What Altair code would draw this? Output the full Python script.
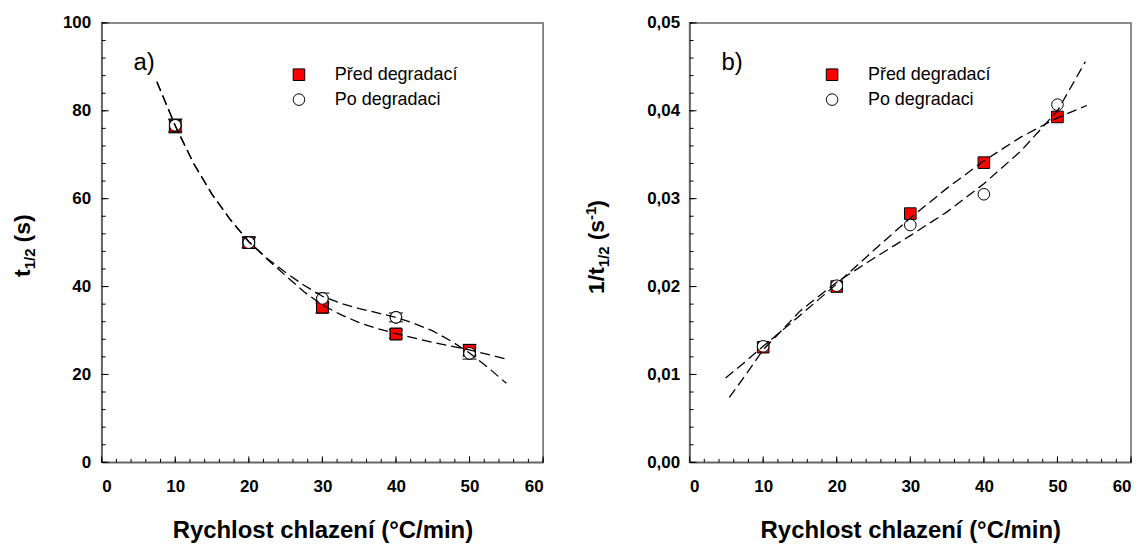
import altair as alt
import pandas as pd

FONT = "Liberation Sans"

# ---------------- data ----------------
rates = [10, 20, 30, 40, 50]
series_names = ["Před degradací", "Po degradaci"]

t_pred = [76.5, 50.0, 35.3, 29.2, 25.5]
t_pred_err = [1.5, 1.2, 1.3, 1.0, 1.3]
t_po = [76.7, 50.0, 37.3, 33.0, 24.8]
t_po_err = [1.4, 1.2, 1.2, 1.0, 1.3]

inv_pred = [0.0131, 0.0200, 0.0283, 0.0341, 0.0393]
inv_po = [0.0132, 0.0201, 0.0270, 0.0305, 0.0407]

fit_a_pred_x = [7.5, 10, 12.5, 15, 17.5, 20, 22.5, 25, 27.5, 30, 32.5, 35, 37.5, 40, 45, 50, 55]
fit_a_pred_y = [86.6, 76.6, 68.0, 61.0, 55.2, 50.2, 46.2, 42.5, 38.8, 35.8, 33.6, 31.8, 30.4, 29.3, 27.3, 25.6, 23.5]
fit_a_po_x = [7.5, 10, 12.5, 15, 17.5, 20, 22.5, 25, 27.5, 30, 32.5, 35, 37.5, 40, 42.5, 45, 47.5, 50, 52.5, 55]
fit_a_po_y = [86.6, 76.6, 68.0, 61.0, 55.2, 50.2, 46.4, 43.2, 40.3, 37.8, 36.2, 35.0, 34.0, 33.0, 31.6, 29.9, 27.6, 24.9, 21.6, 18.0]

fit_b_pred_x = [4.9, 7.5, 10, 15, 20, 25, 30, 35, 40, 45, 50, 54]
fit_b_pred_y = [0.0096, 0.0114, 0.0132, 0.0167, 0.0203, 0.0241, 0.0278, 0.0312, 0.0343, 0.0370, 0.0392, 0.0406]
fit_b_po_x = [5.4, 7.5, 10, 15, 20, 25, 30, 35, 40, 45, 50, 53.8]
fit_b_po_y = [0.0074, 0.0098, 0.0128, 0.0172, 0.0205, 0.0232, 0.0258, 0.0285, 0.0317, 0.0354, 0.0400, 0.0456]

x_major = [0, 10, 20, 30, 40, 50, 60]
x_minor = list(range(0, 61, 2))
ya_major = [0, 20, 40, 60, 80, 100]
ya_minor = list(range(0, 101, 4))
yb_major = [0.0, 0.01, 0.02, 0.03, 0.04, 0.05]
yb_minor = [i / 500 for i in range(0, 26)]

x_title = "Rychlost chlazení (°C/min)"
ya_title_parts = ["t", "1/2", "(s)"]
yb_title_parts = ["1/t", "1/2", "(s", "-1", ")"]
panel_letters = ["a)", "b)"]

W, H = 443, 441


def long_points(ya, yb):
    return pd.DataFrame({
        "rate": rates + rates,
        "val": ya + yb,
        "series": [series_names[0]] * len(rates) + [series_names[1]] * len(rates),
    })


def long_fit(xa, ya, xb, yb):
    return pd.DataFrame({
        "rate": xa + xb,
        "val": ya + yb,
        "series": [series_names[0]] * len(xa) + [series_names[1]] * len(xb),
    })


def make_panel(points, fits, ydom, ymaj, ymin, label_expr, letter, title_parts, title_x, title_y0,
               title_sizes, title_shift, legend_x, errs=None):
    xs = alt.Scale(domain=[0, 60], nice=False, zero=False)
    ys = alt.Scale(domain=ydom, nice=False, zero=False)
    xaxis = alt.Axis(values=x_major, title=x_title, format="d", labelPadding=16, titlePadding=24)
    yaxis_kw = dict(values=ymaj, title="", labelPadding=11)
    if label_expr:
        yaxis_kw["labelExpr"] = label_expr
        yaxis_kw["labelPadding"] = 10
    yaxis = alt.Axis(**yaxis_kw)

    X = lambda f: alt.X(f, scale=xs, axis=xaxis)
    Y = lambda f: alt.Y(f, scale=ys, axis=yaxis)

    leg = alt.Legend(title=None, orient="none", legendX=legend_x, legendY=43,
                     symbolStrokeColor="black", symbolStrokeWidth=1)
    pts = alt.Chart(points).mark_point(filled=True, strokeWidth=1, opacity=1, size=135).encode(
        x=X("rate:Q"),
        y=Y("val:Q"),
        fill=alt.Fill("series:N", scale=alt.Scale(domain=series_names, range=["#ff0000", "#ffffff"]), legend=leg),
        stroke=alt.Stroke("series:N", scale=alt.Scale(domain=series_names, range=["#000000", "#000000"]), legend=leg),
        shape=alt.Shape("series:N", scale=alt.Scale(domain=series_names, range=["square", "circle"]), legend=leg),
    )

    lines = alt.Chart(fits).mark_line(color="black", strokeWidth=1.3, strokeDash=[10, 5]).encode(
        x=X("rate:Q"), y=Y("val:Q"), detail="series:N",
    )

    def xt(vals, length):
        return alt.Chart(pd.DataFrame({"rate": vals})).mark_rule(color="black", strokeWidth=1).encode(
            x=X("rate:Q"), y=alt.value(H), y2=alt.value(H - length))

    def yt(vals, length):
        return alt.Chart(pd.DataFrame({"val": vals})).mark_rule(color="black", strokeWidth=1).encode(
            y=Y("val:Q"), x=alt.value(0), x2=alt.value(length))

    layers = [pts]
    if errs is not None:
        bars = alt.Chart(errs).mark_rule(color="black", strokeWidth=1).encode(
            x=X("rate:Q"), y=Y("lo:Q"), y2="hi:Q")
        cap_lo = alt.Chart(errs).mark_tick(orient="horizontal", color="black", size=14, thickness=1.5).encode(
            x=X("rate:Q"), y=Y("lo:Q"))
        cap_hi = alt.Chart(errs).mark_tick(orient="horizontal", color="black", size=14, thickness=1.5).encode(
            x=X("rate:Q"), y=Y("hi:Q"))
        layers = [pts, bars, cap_lo, cap_hi, pts]
    layers += [lines, xt(x_minor, 3.5), xt(x_major, 6), yt(ymin, 4), yt(ymaj, 7)]

    letter_txt = alt.Chart(pd.DataFrame({"t": [letter]})).mark_text(
        font=FONT, fontSize=24, align="left", baseline="alphabetic", color="black").encode(
        text="t:N", x=alt.value(32), y=alt.value(47))
    layers.append(letter_txt)

    # y axis title composed from pieces (sub/superscripts)
    ypos = title_y0
    for part, (fs, adv), shift in zip(title_parts, title_sizes, title_shift):
        layers.append(alt.Chart(pd.DataFrame({"t": [part]})).mark_text(
            font=FONT, fontSize=fs, fontWeight="bold", angle=270, align="left", baseline="alphabetic",
            color="black").encode(text="t:N", x=alt.value(title_x + shift), y=alt.value(ypos)))
        ypos -= adv

    return alt.layer(*layers).properties(width=W, height=H)


pts_a = long_points(t_pred, t_po)
errs_a = pd.DataFrame({
    "rate": rates + rates,
    "lo": [v - e for v, e in zip(t_pred, t_pred_err)] + [v - e for v, e in zip(t_po, t_po_err)],
    "hi": [v + e for v, e in zip(t_pred, t_pred_err)] + [v + e for v, e in zip(t_po, t_po_err)],
})
fits_a = long_fit(fit_a_pred_x, fit_a_pred_y, fit_a_po_x, fit_a_po_y)
pts_b = long_points(inv_pred, inv_po)
fits_b = long_fit(fit_b_pred_x, fit_b_pred_y, fit_b_po_x, fit_b_po_y)

panel_a = make_panel(pts_a, fits_a, [0, 100], ya_major, ya_minor, None, panel_letters[0],
                     ya_title_parts, -72, 255,
                     [(23, 7.7), (15, 27), (23, 0)], [0, 5, 0], 189, errs=errs_a)
panel_b = make_panel(pts_b, fits_b, [0, 0.05], yb_major, yb_minor,
                     "replace(format(datum.value, '.2f'), '.', ',')", panel_letters[1],
                     yb_title_parts, -86, 272,
                     [(23, 26.8), (15, 27), (23, 20.4), (15, 12.4), (23, 0)], [0, 5, 0, -8, 0], 134)

chart = alt.hconcat(panel_a, panel_b, spacing=38).resolve_scale(
    fill="independent", stroke="independent", shape="independent", x="independent", y="independent"
).properties(
    padding={"left": 3, "top": 4, "right": 5, "bottom": 0}
).configure_view(
    stroke="#666666", strokeWidth=1.5
).configure_axis(
    labelFont=FONT, labelFontSize=17, labelFontWeight="bold", labelColor="black",
    titleFont=FONT, titleFontSize=24, titleFontWeight="bold", titleColor="black",
    domainColor="#666666", domainWidth=1.5, grid=False, ticks=False, tickSize=0,
).configure_legend(
    labelFont=FONT, labelFontSize=18, labelColor="black", symbolSize=135,
    labelOffset=27, rowPadding=7, padding=0,
)

chart.save("out.html", embed_options={"renderer": "svg", "actions": False})
